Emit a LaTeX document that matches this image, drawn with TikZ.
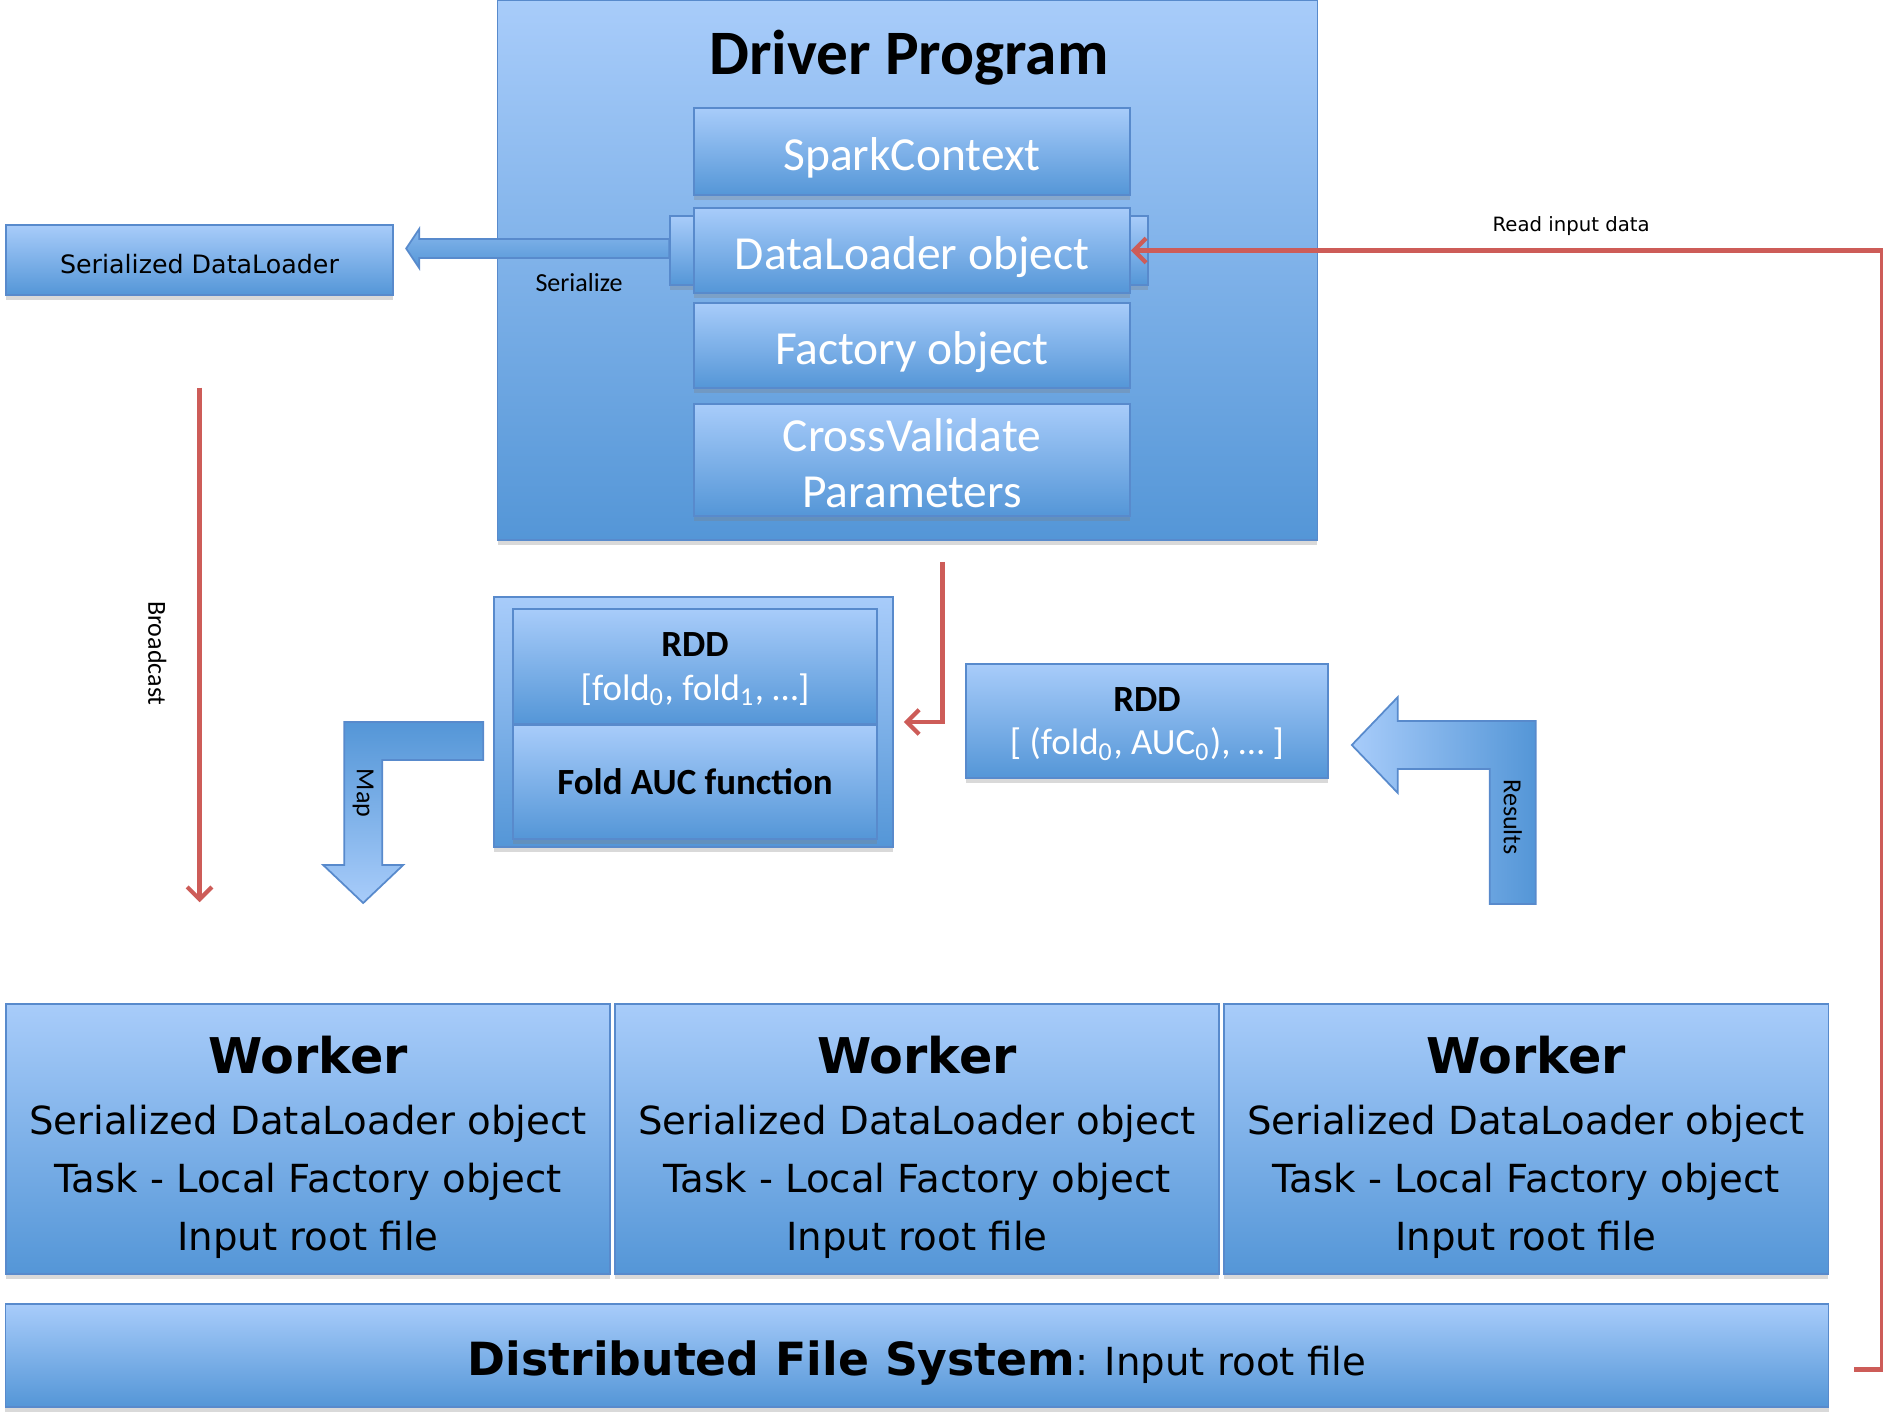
\documentclass[tikz,border=0pt]{standalone}
\usepackage{fontspec}
\setmainfont{Carlito}
\newfontfamily\lucida{DejaVu Sans}
\usepackage{tikz}
\usetikzlibrary{shapes,arrows.meta,calc,shadows}

\definecolor{boxtop}{RGB}{168,204,250}
\definecolor{boxbot}{RGB}{84,150,215}
\definecolor{boxline}{RGB}{88,138,204}
\definecolor{flowred}{RGB}{205,92,88}

\begin{document}
\begin{tikzpicture}[x=0.01cm,y=-0.01cm,
  box/.style={draw=boxline,top color=boxtop,bottom color=boxbot,inner sep=0pt,align=center,
    drop shadow={shadow xshift=0pt,shadow yshift=-1.5pt,opacity=0.3}},
  inbox/.style={box,minimum width=4.36cm,text=white,text height=10.7pt,text depth=0pt,font=\fontsize{13.5}{16}\selectfont},
  worker/.style={box,minimum width=6.04cm,minimum height=2.7cm,text depth=0pt,font=\lucida\fontsize{11}{16.5}\selectfont},
  rdd/.style={box,text=white,font=\fontsize{10.5}{12.3}\selectfont},
  flow/.style={draw=flowred,line width=1.2pt,-{Straight Barb[length=3.5pt,width=7pt]}},
  fat/.style={draw=boxline,line width=0.5pt},
  lbl/.style={font=\fontsize{7.4}{9}\selectfont,inner sep=0pt}]
  \useasboundingbox (0,0) rectangle (1883,1411);

  % driver program
  \node[box,minimum width=8.19cm,minimum height=5.4cm] (driver) at (907.5,270) {};
  \node[font=\fontsize{18}{20}\selectfont\bfseries] (title) at (909,58) {Driver Program};
  \node[box,minimum width=4.78cm,minimum height=0.69cm] (dlback) at (909,250.5) {};
  \draw[fat,top color=boxtop!60!boxbot,bottom color=boxbot] (dlback.west) ++(0,-11.5) -- ++(-250,0) -- ++(0,-10)
    -- ++(-13,19.5) -- ++(13,19.5) -- ++(0,-10) -- ++(250,0) -- cycle;
  \node[lbl] (serlbl) at (579,283) {Serialize};
  \node[inbox,minimum height=0.87cm] (spark) at (912,151.5) {SparkContext};
  \node[inbox,minimum height=0.85cm] (dlobj) at (912,250.5) {DataLoader object};
  \node[inbox,minimum height=0.85cm] (factory) at (912,345.5) {Factory object};
  \node[inbox,minimum height=1.12cm,text height=,text depth=0pt] (cvpar) at (912,460) {\rule{0pt}{11pt}CrossValidate\\Parameters};

  \node[box,minimum width=3.87cm,minimum height=0.7cm,text height=7.5pt,text depth=0pt,font=\lucida\fontsize{7.2}{9}\selectfont] (sdl) at (199.5,260) {Serialized DataLoader};

  % rdds
  \node[box,minimum width=3.99cm,minimum height=2.5cm] (rddouter) at (693.5,722) {};
  \node[rdd,minimum width=3.64cm,minimum height=1.15cm,text depth=0pt] (rddtop) at (695,666.5)
    {\textcolor{black}{\textbf{RDD}}\\{[}fold\textsubscript{0}, fold\textsubscript{1}, …{]}};
  \node[rdd,minimum width=3.64cm,minimum height=1.14cm,text=black] (rddfun) at (695,782) {\textbf{Fold AUC function}};
  \node[rdd,minimum width=3.62cm,minimum height=1.14cm,text depth=0pt] (rddres) at (1147,721)
    {\textcolor{black}{\textbf{RDD}}\\{[} (fold\textsubscript{0}, AUC\textsubscript{0}), … {]}};

  % workers
  \node[worker] (worker1) at (308,1139) {{\fontsize{14}{16}\selectfont\bfseries\rule{0pt}{13pt}Worker}\\[0.8pt]Serialized DataLoader object\\Task - Local Factory object\\Input root file};
  \node[worker] (worker2) at (917,1139) {{\fontsize{14}{16}\selectfont\bfseries\rule{0pt}{13pt}Worker}\\[0.8pt]Serialized DataLoader object\\Task - Local Factory object\\Input root file};
  \node[worker] (worker3) at (1526,1139) {{\fontsize{14}{16}\selectfont\bfseries\rule{0pt}{13pt}Worker}\\[0.8pt]Serialized DataLoader object\\Task - Local Factory object\\Input root file};
  \node[box,minimum width=18.22cm,minimum height=1.03cm,text height=11.3pt,text depth=0pt] (dfs) at (917,1355.5)
    {{\lucida\fontsize{13}{15}\selectfont\bfseries Distributed File System}{\lucida\fontsize{11}{13}\selectfont: Input root file}};

  % map and results
  \draw[fat,top color=boxbot,bottom color=boxtop] ($(rddouter.west)+(-10,0)$) -- ++(-139,0) -- ++(0,143) -- ++(-21,0)
    -- ++(40,38) -- ++(40,-38) -- ++(-21,0) -- ++(0,-105) -- ++(101,0) -- cycle;
  \node[lbl,rotate=-90] (maplbl) at ($(rddouter.west)+(-130,71)$) {Map};
  \coordinate (restip) at ($(rddres.east)+(23,24)$);
  \draw[fat,left color=boxtop,right color=boxbot] (restip) -- ++(46,-48) -- ++(0,24) -- ++(138,0) -- ++(0,183)
    -- ++(-46,0) -- ++(0,-135) -- ++(-92,0) -- ++(0,24) -- cycle;
  \node[lbl,rotate=-90] (reslbl) at ($(restip)+(161,72)$) {Results};

  % red flows
  \draw[flow] ($(sdl.south)+(0,92)$) -- node[midway,xshift=-12pt,yshift=-2.4pt,rotate=-90,lbl] (bclbl) {Broadcast}
    ($(sdl.south |- worker1.north)+(0,-101)$);
  \draw[flow] ($(driver.south)+(35,21)$) |- ($(rddouter.east)+(10,0)$);
  \coordinate (dfsout) at ($(dfs.east)+(25,14)$);
  \draw[flow] (dfsout) -- ++(28,0) |- node[pos=0.707,above=3.7pt,font=\lucida\fontsize{5.6}{7}\selectfont,inner sep=0pt] (readlbl) {Read input data} (dlobj.east);
\end{tikzpicture}
\end{document}
